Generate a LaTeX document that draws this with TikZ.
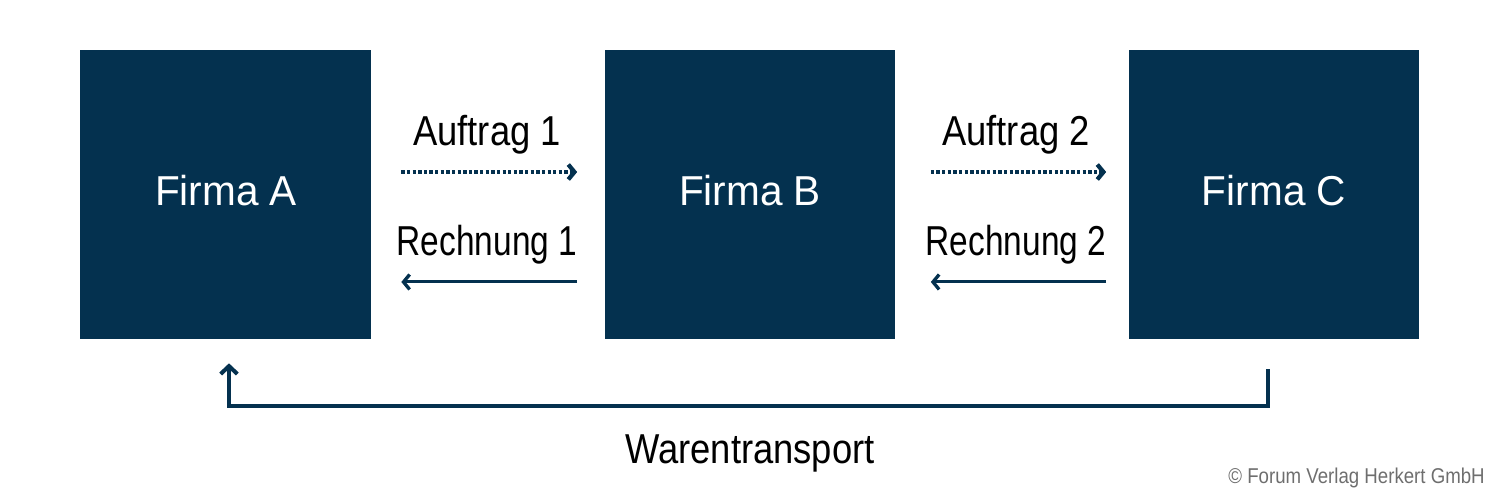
\documentclass[tikz,border=0pt]{standalone}
\usepackage{fontspec}
\setmainfont{Liberation Sans}[FakeStretch=0.87]
\newfontfamily\firmfont{Liberation Sans}[FakeStretch=0.97]
\newfontfamily\narrowfont{Liberation Sans}[FakeStretch=0.80]
\usetikzlibrary{arrows.meta,calc}
\definecolor{navy}{RGB}{4,49,79}
\definecolor{cgray}{RGB}{110,110,110}
\tikzset{
  firm/.style={fill=navy, draw=none, minimum width=5.82cm, minimum height=5.78cm, inner sep=0pt,
    text=white},
  firmtext/.style={text=white, font=\firmfont\fontsize{23.8}{26}\selectfont, inner sep=0pt, anchor=base},
  lbl/.style={text=black, font=\fontsize{23.8}{26}\selectfont, inner sep=0pt, anchor=base},
  dotarrow/.style={navy, line width=1.9pt, dash pattern=on 1.9pt off 1.3pt,
    -{Straight Barb[length=3.5pt,width=8.5pt,line width=2.4pt]}},
  solidarrow/.style={navy, line width=1.7pt,
    -{Straight Barb[length=3.5pt,width=8.5pt,line width=1.9pt]}},
  warr/.style={navy, line width=2.3pt,
    -{Straight Barb[length=4.5pt,width=9.5pt,line width=2.3pt]}}
}
\begin{document}
\begin{tikzpicture}[x=0.02cm,y=-0.02cm]
\path[use as bounding box] (0,0) rectangle (1500,500);
\node[firm] (a) at (225.5,194.5) {};
\node[firm] (b) at (750,194.5) {};
\node[firm] (c) at (1274,194.5) {};
\node[firmtext] (na) at (226,205) {Firma A};
\node[firmtext] (nb) at (750,205) {Firma B};
\node[firmtext] (nc) at (1274,205) {Firma C};

\node[lbl] (t1) at (487,145) {Auftrag 1};
\node[lbl, font=\narrowfont\fontsize{23.8}{26}\selectfont] (t2) at (487,255) {Rechnung 1};
\node[lbl] (t3) at (1016,145) {Auftrag 2};
\node[lbl, font=\narrowfont\fontsize{23.8}{26}\selectfont] (t4) at (1016,255) {Rechnung 2};

\draw[dotarrow, shorten <=0.6cm, shorten >=0.54cm] ([yshift=0.45cm]a.east) -- ([yshift=0.45cm]b.west);
\draw[solidarrow, shorten <=0.54cm, shorten >=0.6cm] ([yshift=-1.75cm]b.west) -- ([yshift=-1.75cm]a.east);
\draw[dotarrow, shorten <=0.7cm, shorten >=0.44cm] ([yshift=0.45cm]b.east) -- ([yshift=0.45cm]c.west);
\draw[solidarrow, shorten <=0.44cm, shorten >=0.7cm] ([yshift=-1.75cm]c.west) -- ([yshift=-1.75cm]b.east);

\coordinate (ws) at ([xshift=-0.12cm,yshift=-0.6cm]c.south);
\coordinate (we) at ([xshift=0.07cm,yshift=-0.48cm]a.south);
\draw[warr] (ws) -- ++(0,37) -| (we);

\node[lbl] (wt) at (750,463) {Warentransport};
\node[text=cgray, font=\fontsize{12.2}{14}\selectfont, anchor=base east, inner sep=0pt] (cp) at (1485,483) {© Forum Verlag Herkert GmbH};
\end{tikzpicture}
\end{document}
